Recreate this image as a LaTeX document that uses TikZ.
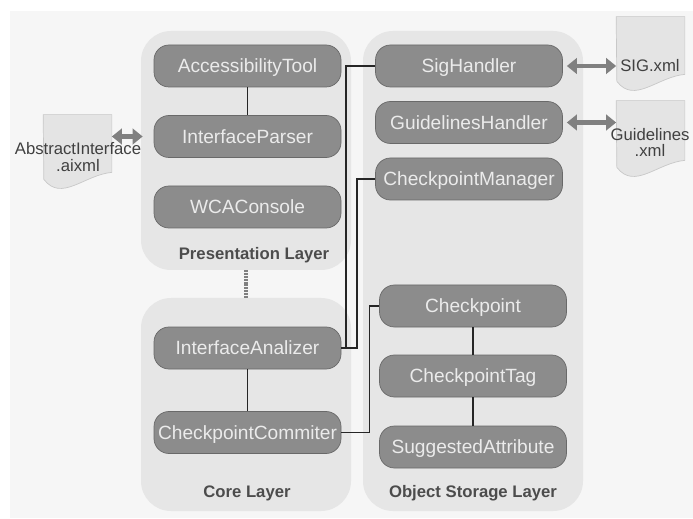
\documentclass[tikz,border=0pt]{standalone}
\usepackage{fontspec}
\setmainfont{Liberation Sans}
\usetikzlibrary{arrows.meta}
\definecolor{pagebg}{HTML}{F6F6F6}
\definecolor{layerbg}{HTML}{E6E6E6}
\definecolor{boxbg}{HTML}{8C8C8C}
\definecolor{boxedge}{HTML}{696969}
\definecolor{docbg}{HTML}{E4E4E4}
\definecolor{docedge}{HTML}{C8C8C8}
\definecolor{arrowgrey}{HTML}{808080}
\tikzset{
  layer/.style={fill=layerbg, rounded corners=0.6cm, minimum width=#1, inner sep=0pt},
  comp/.style={fill=boxbg, draw=boxedge, rounded corners=0.3cm, minimum width=3.74cm, minimum height=0.84cm,
    inner sep=0pt, text height=7.6pt, text depth=0pt, text=white!92!black, font=\fontsize{10.9}{12}\selectfont},
  doc/.style={minimum width=1.36cm, inner sep=0pt},
  doctext/.style={text=black!75, align=center, inner sep=0pt, font=\fontsize{9.5}{9.5}\selectfont},
  layertext/.style={text=black!70, inner sep=0pt, font=\fontsize{9.5}{12}\selectfont\bfseries},
  link/.style={draw=black!85, line width=0.9pt},
  swap/.style={draw=arrowgrey, line width=2.8pt,
    {Triangle[length=0.2cm,width=0.31cm]}-{Triangle[length=0.2cm,width=0.31cm]}}
}
\begin{document}
\begin{tikzpicture}
      \useasboundingbox (0, 0) rectangle (13.86, 10.36);
      \fill[pagebg] (0.2, 0) rectangle (13.86, 10.14);

      \node[layer=4.2cm, minimum height=4.78cm] (presentation)  at  (4.92, 7.35){};
      \node[layer=4.2cm, minimum height=4.26cm] (core)  at  (4.92, 2.27){};
      \node[layer=4.4cm, minimum height=9.6cm] (storage)  at  (9.46, 4.94){};

      \node[comp] (access)  at  (4.95, 9.04){AccessibilityTool};
      \node[comp] (parser)  at  (4.95, 7.63){InterfaceParser};
      \node[comp] (console)  at  (4.95, 6.22){WCAConsole};
      \node[comp] (analizer)  at  (4.95, 3.40){InterfaceAnalizer};
      \node[comp] (commiter)  at  (4.95, 1.71){CheckpointCommiter};

      \node[comp] (sighandler)  at  (9.38, 9.04){SigHandler};
      \node[comp] (guidehandler)  at  (9.38, 7.91){GuidelinesHandler};
      \node[comp] (manager)  at  (9.38, 6.78){CheckpointManager};
      \node[comp] (checkpoint)  at  (9.46, 4.24){Checkpoint};
      \node[comp] (tag)  at  (9.46, 2.84){CheckpointTag};
      \node[comp] (suggested)  at  (9.46, 1.42){SuggestedAttribute};

      \node[doc, minimum height=1.14cm] (aixml)  at  (1.55, 7.49){};
      \node[doc, minimum height=1.14cm] (sigxml)  at  (13.01, 9.45){};
      \node[doc, minimum height=1.18cm] (guidexml)  at  (13.01, 7.75){};

      \foreach \d in {aixml, sigxml, guidexml}
        \filldraw[fill=docbg, draw=docedge, line width=0.4pt] (\d.north west) -- (\d.north east) -- (\d.south east)
          .. controls +(-0.55, -0.05) and +(0.35, -0.46) .. +(-1.36, -0.14) -- cycle;

      \node[layertext] (presentationlabel)  at  (5.08, 5.25){Presentation Layer};
      \node[layertext] (corelabel)  at  (4.94, 0.49){Core Layer};
      \node[layertext] (storagelabel)  at  (9.46, 0.49){Object Storage Layer};

      \node[doctext] (aixmltext)  at  (1.56, 7.22){AbstractInterface\\.aixml};
      \node[doctext] (sigtext)  at  (13.0, 9.04){SIG.xml};
      \node[doctext] (guidetext)  at  (13.0, 7.51){Guidelines\\.xml};

      \draw[link] (access) -- (parser);
      \draw[link] (analizer) -- (commiter);
      \draw[link] (checkpoint) -- (tag) -- (suggested);
      \draw[link] (sighandler.west) -- ++(-0.58, 0) |- (analizer.east);
      \draw[link] (manager.west) -- ++(-0.36, 0) |- (analizer.east);
      \draw[link] (commiter.east) -- ++(0.56, 0) |- (checkpoint.west);

      \draw[draw=arrowgrey, line width=2.8pt, dash pattern=on 1.1pt off 0.5pt] (presentation) -- (core);
      \draw[swap, shorten >=-0.04cm] (aixml.east |- parser) -- (presentation.west |- parser);
      \draw[swap, shorten <=0.08cm] (sighandler.east) -- (sigxml.west |- sighandler);
      \draw[swap, shorten <=0.08cm] (guidehandler.east) -- (guidexml.west |- guidehandler);
    \end{tikzpicture}
\end{document}
